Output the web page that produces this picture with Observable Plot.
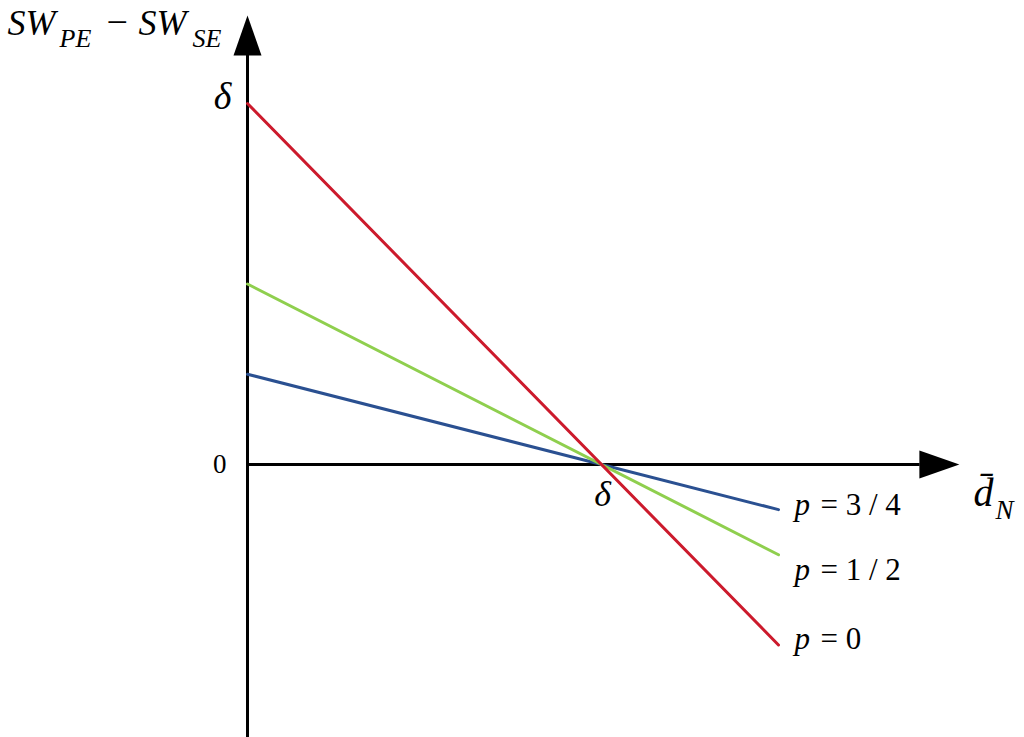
<!DOCTYPE html>
<html>
<head>
<meta charset="utf-8">
<script src="https://cdn.jsdelivr.net/npm/d3@7"></script>
<script src="https://cdn.jsdelivr.net/npm/@observablehq/plot@0.6"></script>
<style>
  html, body { margin: 0; padding: 0; background: #fff; }
  #chart svg { display: block; }
</style>
</head>
<body>
<div id="chart"></div>
<script>
// ---- data (x = d̄_N in units of δ, y = SW_PE − SW_SE in units of δ) ----
const pLabels   = ["3 / 4", "1 / 2", "0"];
const lineColors = ["#2a5091", "#8fcf4e", "#cc1a2c"];
const xStart    = [0, 0, 0];
const xEnd      = [1.5, 1.5, 1.5];
const yStart    = [0.25, 0.5, 1];
const yEnd      = [-0.125, -0.25, -0.5];
const labelY    = [-0.139, -0.319, -0.51];

// axis extents (in data units)
const xAxisTip = 2.011, xAxisBase = 1.9;
const yAxisTip = 1.244, yAxisBase = 1.14, yAxisBottom = -0.8;

// ---- derived tables ----
const lines = [];
pLabels.forEach((p, i) => {
  lines.push({p, x: xStart[i], y: yStart[i], c: lineColors[i]});
  lines.push({p, x: xEnd[i], y: yEnd[i], c: lineColors[i]});
});
const labels = pLabels.map((p, i) => ({p, x: xEnd[i], y: labelY[i]}));

const serif = "Liberation Serif";

// arrowhead symbol with its tip at the origin, pointing up
const arrowHead = {
  draw(ctx) {
    ctx.moveTo(0, 0);
    ctx.lineTo(14, 40);
    ctx.lineTo(-14, 40);
    ctx.closePath();
  }
};

// text helper: anchor at data (x, y), offsets in px to the baseline
function txt(str, x, y, {dx = 0, base = 0, fs = 30, italic = true, anchor = "start"} = {}) {
  return Plot.text([{x, y, t: str}], {
    x: "x", y: "y", text: "t",
    dx, dy: base - 0.32 * fs,
    lineAnchor: "middle",
    textAnchor: anchor,
    fontSize: fs,
    fontFamily: serif,
    fontStyle: italic ? "italic" : "normal",
    fill: "#000"
  });
}

const chart = Plot.plot({
  width: 1024,
  height: 737,
  margin: 0,
  x: {domain: [0, 1], range: [247, 601], axis: null},
  y: {domain: [0, 1], range: [464, 103], axis: null},
  style: {background: "#fff", fontFamily: serif},
  marks: [
    // axes
    Plot.ruleY([0], {x1: 0, x2: xAxisBase, stroke: "#000", strokeWidth: 3}),
    Plot.ruleX([0], {y1: yAxisBottom, y2: yAxisBase, stroke: "#000", strokeWidth: 3}),
    Plot.dot([{x: 0, y: yAxisTip}], {x: "x", y: "y", symbol: arrowHead, fill: "#000", stroke: "none"}),
    Plot.dot([{x: xAxisTip, y: 0}], {x: "x", y: "y", symbol: arrowHead, rotate: 90, fill: "#000", stroke: "none"}),
    // the three lines
    Plot.line(lines, {x: "x", y: "y", z: "p", stroke: "c", strokeWidth: 3}),
    // line labels
    Plot.text(labels, {x: "x", y: "y", text: () => "p", dx: 16, dy: -0.32 * 31,
      textAnchor: "start", lineAnchor: "middle", fontSize: 31, fontFamily: serif, fontStyle: "italic", fill: "#000"}),
    Plot.text(labels, {x: "x", y: "y", text: d => "= " + d.p, dx: 42, dy: -0.32 * 31,
      textAnchor: "start", lineAnchor: "middle", fontSize: 31, fontFamily: serif, fill: "#000"}),
    // tick labels
    txt("δ", 0, 1, {dx: -16, base: 5, fs: 38, anchor: "end"}),
    txt("0", 0, 0, {dx: -21, base: 8, fs: 27, italic: false, anchor: "end"}),
    txt("δ", 1, 0, {dx: 1, base: 41, fs: 36, anchor: "middle"}),
    // x-axis title  d̄_N
    txt("d\u0304", xAxisTip, 0, {dx: 14, base: 41, fs: 40}),
    txt("N", xAxisTip, 0, {dx: 36, base: 54, fs: 27}),
    // y-axis title  SW_PE − SW_SE
    txt("SW", 0, yAxisTip, {dx: -240, base: 20, fs: 36}),
    txt("PE", 0, yAxisTip, {dx: -188, base: 32, fs: 26}),
    txt("\u2212", 0, yAxisTip, {dx: -141, base: 20, fs: 38, italic: false}),
    txt("SW", 0, yAxisTip, {dx: -109, base: 20, fs: 36}),
    txt("SE", 0, yAxisTip, {dx: -55, base: 32, fs: 26})
  ]
});
document.getElementById("chart").appendChild(chart);
</script>
</body>
</html>
